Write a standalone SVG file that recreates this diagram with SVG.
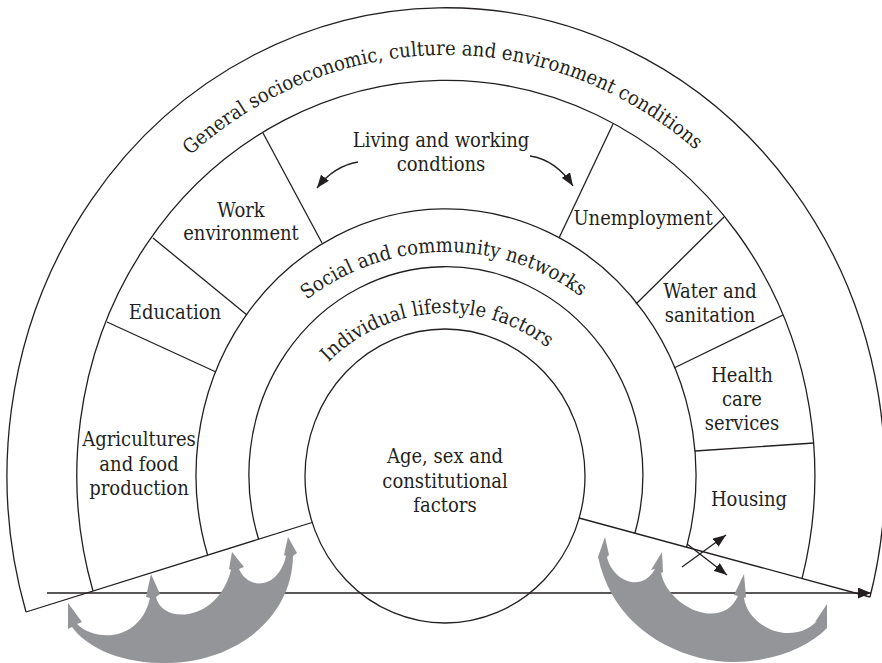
<svg xmlns="http://www.w3.org/2000/svg" width="882" height="663" viewBox="0 0 882 663">
  <style>
    .ln { fill: none; stroke: #231f20; stroke-width: 1.3; }
    .lbl { font-family: "DejaVu Serif Condensed", "DejaVu Serif", serif; font-stretch: condensed; font-size: 20px; fill: #231f20; text-anchor: middle; }
    .arc { font-family: "DejaVu Serif Condensed", "DejaVu Serif", serif; font-stretch: condensed; font-size: 20px; fill: #231f20; }
    .grey { fill: #939598; stroke: none; }
  </style>
  <defs>
    <marker id="head" markerUnits="userSpaceOnUse" markerWidth="13" markerHeight="11" refX="13" refY="5.5" orient="auto">
      <path d="M0,0 L13,5.5 L0,11 Z" fill="#231f20"/>
    </marker>
    <marker id="headSmall" markerUnits="userSpaceOnUse" markerWidth="13" markerHeight="10" refX="13" refY="5" orient="auto">
      <path d="M0,0 L13,5 L0,10 Z" fill="#231f20"/>
    </marker>
    <!-- baselines for the curved ring titles -->
    <path id="pGeneral" d="M190.1,155.6 A394,420 0 0 1 699.3,153.3"/>
    <path id="pSocial" d="M306.9,299.9 A226,226 0 0 1 585.1,299.9"/>
    <path id="pIndividual" d="M328.3,362.4 A165,165 0 0 1 548.9,349.1"/>
  </defs>

  <!-- concentric rings, cut off by the two slanted base lines -->
  <g id="rings">
    <path class="ln" d="M26,612 A439,468 0 1 1 870,597"/>
    <path class="ln" d="M93,591 A369,395 0 1 1 802,578.6"/>
    <path class="ln" d="M207.6,555 A250,266 0 1 1 686.6,547.2"/>
    <path class="ln" d="M258.6,539.2 A197,208 0 1 1 635,533"/>
    <path class="ln" d="M26,612 L312,522.5"/>
    <path class="ln" d="M579,518 L870,597"/>
  </g>

  <!-- sector dividers in the living and working conditions ring -->
  <g id="dividers">
    <path class="ln" d="M107,322 L216,372"/>
    <path class="ln" d="M153,238 L247,315"/>
    <path class="ln" d="M263,133 L322,243"/>
    <path class="ln" d="M613,124 L559,238"/>
    <path class="ln" d="M724,217 L636,304"/>
    <path class="ln" d="M783,315 L674,368"/>
    <path class="ln" d="M814,443 L695,451"/>
  </g>

  <g id="general-conditions">
    <text class="arc"><textPath href="#pGeneral" textLength="554" lengthAdjust="spacing">General socioeconomic, culture and environment conditions</textPath></text>
  </g>
  <g id="social-networks">
    <text class="arc"><textPath href="#pSocial" textLength="294" lengthAdjust="spacing">Social and community networks</textPath></text>
  </g>
  <g id="individual-lifestyle">
    <text class="arc"><textPath href="#pIndividual" textLength="240" lengthAdjust="spacing">Individual lifestyle factors</textPath></text>
  </g>

  <g id="core">
    <ellipse class="ln" cx="445" cy="476" rx="140" ry="147"/>
    <text class="lbl" x="445" y="463">Age, sex and</text>
    <text class="lbl" x="445" y="488">constitutional</text>
    <text class="lbl" x="445" y="512">factors</text>
  </g>

  <g id="living-working">
    <text class="lbl" x="441" y="147">Living and working</text>
    <text class="lbl" x="441" y="171">condtions</text>
  </g>
  <g id="work-environment">
    <text class="lbl" x="241" y="217">Work</text>
    <text class="lbl" x="241" y="240">environment</text>
  </g>
  <g id="education">
    <text class="lbl" x="175" y="319">Education</text>
  </g>
  <g id="agriculture">
    <text class="lbl" x="139" y="446">Agricultures</text>
    <text class="lbl" x="139" y="471">and food</text>
    <text class="lbl" x="139" y="495">production</text>
  </g>
  <g id="unemployment">
    <text class="lbl" x="643" y="225">Unemployment</text>
  </g>
  <g id="water">
    <text class="lbl" x="710" y="298">Water and</text>
    <text class="lbl" x="710" y="322">sanitation</text>
  </g>
  <g id="health">
    <text class="lbl" x="742" y="382">Health</text>
    <text class="lbl" x="742" y="406">care</text>
    <text class="lbl" x="742" y="430">services</text>
  </g>
  <g id="housing">
    <text class="lbl" x="749" y="506">Housing</text>
  </g>

  <g id="connectors">
    <!-- time axis -->
    <path class="ln" d="M47,593 L871,593" marker-end="url(#head)"/>
    <!-- links inside the living and working ring -->
    <path class="ln" d="M358,162 Q334,166 317,188" marker-end="url(#headSmall)"/>
    <path class="ln" d="M530,156 Q556,160 573,186" marker-end="url(#headSmall)"/>
    <!-- crossing arrows by Housing -->
    <path class="ln" d="M682,567 L726,535" marker-end="url(#headSmall)"/>
    <path class="ln" d="M687,544 L727,575" marker-end="url(#headSmall)"/>
    <!-- grey feedback arrows, left -->
    <path class="grey" d="M68,603 L82,622 L77,624 C95,642 140,642 150,598 L146,597 L151,574 L160,594 L156,597 C162,625 218,622 231,570 L229,569 L232,552 L244,567 L239,569 C248,590 278,590 286,556 L284,555 L288,537 L297,553 L293,556 C292,620 232,665 160,663 C115,662 85,645 72,627 L68,629 Z"/>
    <!-- grey feedback arrows, right -->
    <path class="grey" d="M605,537 L609,555 L607,557 C612,580 641,594 655,569 L651,570 L662,552 L663,572 L661,573 C668,607 722,632 738,596 L734,595 L744,574 L746,597 L744,598 C748,627 792,647 817,621 L815,622 L827,604 L827,628 C800,656 745,669 700,658 C650,645 610,612 598,557 Z"/>
  </g>
</svg>
